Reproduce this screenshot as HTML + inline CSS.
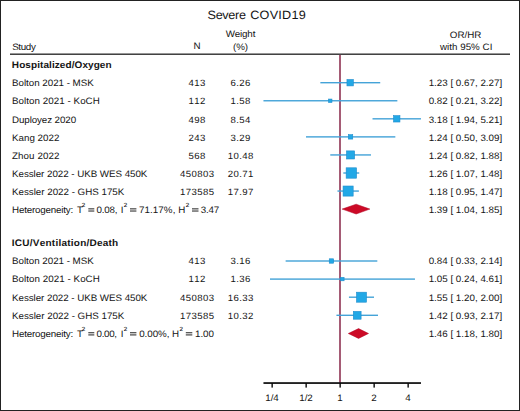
<!DOCTYPE html><html><head><meta charset="utf-8"><style>html,body{margin:0;padding:0;background:#fff}svg{display:block}text{font-family:"Liberation Sans",sans-serif;fill:#141414;text-rendering:geometricPrecision;font-kerning:none}</style></head><body>
<svg width="520" height="411" viewBox="0 0 520 411">
<rect x="0" y="0" width="520" height="411" fill="#fff"/>
<rect x="0.5" y="0.5" width="519" height="410" fill="none" stroke="#222" stroke-width="1"/>
<g transform="translate(207.53,19.3) scale(1,0.95)"><text x="0" y="0" font-size="12.65" textLength="38.44" lengthAdjust="spacing" >Severe</text></g>
<g transform="translate(250.16,19.3) scale(1,0.95)"><text x="0" y="0" font-size="12.65" textLength="55.64" lengthAdjust="spacing" >COVID19</text></g>
<g transform="translate(12.15,49.6) scale(1,0.95)"><text x="0" y="0" font-size="9.8" textLength="23.66" lengthAdjust="spacing" >Study</text></g>
<g transform="translate(197,49.4) scale(1,0.95)"><text x="0" y="0" font-size="9.8" text-anchor="middle">N</text></g>
<g transform="translate(225.76,37.3) scale(1,0.95)"><text x="0" y="0" font-size="9.8" textLength="29.61" lengthAdjust="spacing" >Weight</text></g>
<g transform="translate(240.5,49.6) scale(1,0.95)"><text x="0" y="0" font-size="9.8" text-anchor="middle">(%)</text></g>
<g transform="translate(449.84,37.8) scale(1,0.95)"><text x="0" y="0" font-size="9.8" textLength="31.62" lengthAdjust="spacing" >OR/HR</text></g>
<g transform="translate(440.01,49.6) scale(1,0.95)"><text x="0" y="0" font-size="9.8" textLength="52.39" lengthAdjust="spacing" >with 95% CI</text></g>
<rect x="10" y="53.5" width="500" height="1.4" fill="#2e2e2e"/>
<rect x="339.1" y="54.9" width="1.8" height="328" fill="#9c4a66"/>
<g transform="translate(11.83,68.3) scale(1,0.95)"><text x="0" y="0" font-size="10" font-weight="bold" textLength="99.79" lengthAdjust="spacing" >Hospitalized/Oxygen</text></g>
<g transform="translate(12.00,86.4) scale(1,0.95)"><text x="0" y="0" font-size="9.8" textLength="81.81" lengthAdjust="spacing" >Bolton 2021 - MSK</text></g>
<g transform="translate(197.2,86.4) scale(1,0.95)"><text x="0" y="0" font-size="9.6" letter-spacing="0.4" text-anchor="middle">413</text></g>
<g transform="translate(240.7,86.4) scale(1,0.95)"><text x="0" y="0" font-size="9.6" letter-spacing="0.4" text-anchor="middle">6.26</text></g>
<g transform="translate(465.4,86.4) scale(1,0.95)"><text x="0" y="0" font-size="9.8" text-anchor="middle">1.23 [ 0.67, 2.27]</text></g>
<rect x="320.36" y="82.00" width="59.86" height="1.4" fill="#44a3d8"/>
<rect x="346.95" y="79.50" width="6.40" height="6.40" fill="#22a8e6" stroke="#1f8ccc" stroke-width="0.6"/>
<g transform="translate(12.00,104.46) scale(1,0.95)"><text x="0" y="0" font-size="9.8" textLength="87.80" lengthAdjust="spacing" >Bolton 2021 - KoCH</text></g>
<g transform="translate(197.2,104.46) scale(1,0.95)"><text x="0" y="0" font-size="9.6" letter-spacing="0.4" text-anchor="middle">112</text></g>
<g transform="translate(240.7,104.46) scale(1,0.95)"><text x="0" y="0" font-size="9.6" letter-spacing="0.4" text-anchor="middle">1.58</text></g>
<g transform="translate(465.4,104.46) scale(1,0.95)"><text x="0" y="0" font-size="9.8" text-anchor="middle">0.82 [ 0.21, 3.22]</text></g>
<rect x="263.45" y="100.06" width="133.91" height="1.4" fill="#44a3d8"/>
<rect x="328.57" y="99.06" width="3.40" height="3.40" fill="#22a8e6" stroke="#1f8ccc" stroke-width="0.6"/>
<g transform="translate(12.00,122.52) scale(1,0.95)"><text x="0" y="0" font-size="9.8" textLength="64.08" lengthAdjust="spacing" >Duployez 2020</text></g>
<g transform="translate(197.2,122.52) scale(1,0.95)"><text x="0" y="0" font-size="9.6" letter-spacing="0.4" text-anchor="middle">498</text></g>
<g transform="translate(240.7,122.52) scale(1,0.95)"><text x="0" y="0" font-size="9.6" letter-spacing="0.4" text-anchor="middle">8.54</text></g>
<g transform="translate(465.4,122.52) scale(1,0.95)"><text x="0" y="0" font-size="9.8" text-anchor="middle">3.18 [ 1.94, 5.21]</text></g>
<rect x="372.51" y="118.12" width="48.46" height="1.4" fill="#44a3d8"/>
<rect x="393.55" y="115.62" width="6.40" height="6.40" fill="#22a8e6" stroke="#1f8ccc" stroke-width="0.6"/>
<g transform="translate(12.00,140.58) scale(1,0.95)"><text x="0" y="0" font-size="9.8" textLength="47.39" lengthAdjust="spacing" >Kang 2022</text></g>
<g transform="translate(197.2,140.58) scale(1,0.95)"><text x="0" y="0" font-size="9.6" letter-spacing="0.4" text-anchor="middle">243</text></g>
<g transform="translate(240.7,140.58) scale(1,0.95)"><text x="0" y="0" font-size="9.6" letter-spacing="0.4" text-anchor="middle">3.29</text></g>
<g transform="translate(465.4,140.58) scale(1,0.95)"><text x="0" y="0" font-size="9.8" text-anchor="middle">1.24 [ 0.50, 3.09]</text></g>
<rect x="306.00" y="136.18" width="89.34" height="1.4" fill="#44a3d8"/>
<rect x="348.35" y="134.68" width="4.40" height="4.40" fill="#22a8e6" stroke="#1f8ccc" stroke-width="0.6"/>
<g transform="translate(12.00,158.64) scale(1,0.95)"><text x="0" y="0" font-size="9.8" textLength="47.39" lengthAdjust="spacing" >Zhou 2022</text></g>
<g transform="translate(197.2,158.64) scale(1,0.95)"><text x="0" y="0" font-size="9.6" letter-spacing="0.4" text-anchor="middle">568</text></g>
<g transform="translate(240.7,158.64) scale(1,0.95)"><text x="0" y="0" font-size="9.6" letter-spacing="0.4" text-anchor="middle">10.48</text></g>
<g transform="translate(465.4,158.64) scale(1,0.95)"><text x="0" y="0" font-size="9.8" text-anchor="middle">1.24 [ 0.82, 1.88]</text></g>
<rect x="330.27" y="154.24" width="40.70" height="1.4" fill="#44a3d8"/>
<rect x="346.50" y="150.89" width="8.10" height="8.10" fill="#22a8e6" stroke="#1f8ccc" stroke-width="0.6"/>
<g transform="translate(12.00,176.7) scale(1,0.95)"><text x="0" y="0" font-size="9.8" textLength="135.41" lengthAdjust="spacing" >Kessler 2022 - UKB WES 450K</text></g>
<g transform="translate(197.2,176.7) scale(1,0.95)"><text x="0" y="0" font-size="9.6" letter-spacing="0.4" text-anchor="middle">450803</text></g>
<g transform="translate(240.7,176.7) scale(1,0.95)"><text x="0" y="0" font-size="9.6" letter-spacing="0.4" text-anchor="middle">20.71</text></g>
<g transform="translate(465.4,176.7) scale(1,0.95)"><text x="0" y="0" font-size="9.8" text-anchor="middle">1.26 [ 1.07, 1.48]</text></g>
<rect x="343.32" y="172.30" width="15.91" height="1.4" fill="#44a3d8"/>
<rect x="346.14" y="167.80" width="10.40" height="10.40" fill="#22a8e6" stroke="#1f8ccc" stroke-width="0.6"/>
<g transform="translate(12.00,194.76) scale(1,0.95)"><text x="0" y="0" font-size="9.8" textLength="112.31" lengthAdjust="spacing" >Kessler 2022 - GHS 175K</text></g>
<g transform="translate(197.2,194.76) scale(1,0.95)"><text x="0" y="0" font-size="9.6" letter-spacing="0.4" text-anchor="middle">173585</text></g>
<g transform="translate(240.7,194.76) scale(1,0.95)"><text x="0" y="0" font-size="9.6" letter-spacing="0.4" text-anchor="middle">17.97</text></g>
<g transform="translate(465.4,194.76) scale(1,0.95)"><text x="0" y="0" font-size="9.8" text-anchor="middle">1.18 [ 0.95, 1.47]</text></g>
<rect x="337.48" y="190.36" width="21.41" height="1.4" fill="#44a3d8"/>
<rect x="343.07" y="186.01" width="10.10" height="10.10" fill="#22a8e6" stroke="#1f8ccc" stroke-width="0.6"/>
<g transform="translate(12.00,212.8) scale(1,0.95)"><text x="0" y="0" font-size="9.8" textLength="61.19" lengthAdjust="spacing" >Heterogeneity:</text></g>
<g transform="translate(76.88,212.8) scale(1,0.95)"><text x="0" y="0" font-size="9.8" textLength="5.99" lengthAdjust="spacing" >T</text></g>
<g transform="translate(81.79,206.90) scale(1,0.95)"><text x="0" y="0" font-size="6.2" stroke="#141414" stroke-width="0.12">2</text></g>
<rect x="88.3" y="208.40" width="6.00" height="0.95" fill="#141414"/>
<rect x="88.3" y="210.55" width="6.00" height="0.95" fill="#141414"/>
<g transform="translate(96.62,212.8) scale(1,0.95)"><text x="0" y="0" font-size="9.8" textLength="20.76" lengthAdjust="spacing" >0.08,</text></g>
<g transform="translate(120.70,212.8) scale(1,0.95)"><text x="0" y="0" font-size="9.8">I</text></g>
<g transform="translate(123.69,206.90) scale(1,0.95)"><text x="0" y="0" font-size="6.2" stroke="#141414" stroke-width="0.12">2</text></g>
<rect x="130.0" y="208.40" width="6.40" height="0.95" fill="#141414"/>
<rect x="130.0" y="210.55" width="6.40" height="0.95" fill="#141414"/>
<g transform="translate(139.10,212.8) scale(1,0.95)"><text x="0" y="0" font-size="9.8" textLength="36.28" lengthAdjust="spacing" >71.17%,</text></g>
<g transform="translate(178.20,212.8) scale(1,0.95)"><text x="0" y="0" font-size="9.8">H</text></g>
<g transform="translate(185.69,206.90) scale(1,0.95)"><text x="0" y="0" font-size="6.2" stroke="#141414" stroke-width="0.12">2</text></g>
<rect x="192.0" y="208.40" width="6.50" height="0.95" fill="#141414"/>
<rect x="192.0" y="210.55" width="6.50" height="0.95" fill="#141414"/>
<g transform="translate(200.63,212.8) scale(1,0.95)"><text x="0" y="0" font-size="9.8" textLength="18.67" lengthAdjust="spacing" >3.47</text></g>
<g transform="translate(465.4,212.8) scale(1,0.95)"><text x="0" y="0" font-size="9.8" text-anchor="middle">1.39 [ 1.04, 1.85]</text></g>
<polygon points="342.12,209.10 356.15,204.20 369.88,209.10 356.15,214.00" fill="#cc0a26" stroke="#b00020" stroke-width="0.5"/>
<g transform="translate(11.83,246.2) scale(1,0.95)"><text x="0" y="0" font-size="10" font-weight="bold" textLength="106.39" lengthAdjust="spacing" >ICU/Ventilation/Death</text></g>
<g transform="translate(12.00,264.3) scale(1,0.95)"><text x="0" y="0" font-size="9.8" textLength="81.81" lengthAdjust="spacing" >Bolton 2021 - MSK</text></g>
<g transform="translate(197.2,264.3) scale(1,0.95)"><text x="0" y="0" font-size="9.6" letter-spacing="0.4" text-anchor="middle">413</text></g>
<g transform="translate(240.7,264.3) scale(1,0.95)"><text x="0" y="0" font-size="9.6" letter-spacing="0.4" text-anchor="middle">3.16</text></g>
<g transform="translate(465.4,264.3) scale(1,0.95)"><text x="0" y="0" font-size="9.8" text-anchor="middle">0.84 [ 0.33, 2.14]</text></g>
<rect x="285.62" y="260.30" width="91.70" height="1.4" fill="#44a3d8"/>
<rect x="329.25" y="258.80" width="4.40" height="4.40" fill="#22a8e6" stroke="#1f8ccc" stroke-width="0.6"/>
<g transform="translate(12.00,282.4) scale(1,0.95)"><text x="0" y="0" font-size="9.8" textLength="87.80" lengthAdjust="spacing" >Bolton 2021 - KoCH</text></g>
<g transform="translate(197.2,282.4) scale(1,0.95)"><text x="0" y="0" font-size="9.6" letter-spacing="0.4" text-anchor="middle">112</text></g>
<g transform="translate(240.7,282.4) scale(1,0.95)"><text x="0" y="0" font-size="9.6" letter-spacing="0.4" text-anchor="middle">1.36</text></g>
<g transform="translate(465.4,282.4) scale(1,0.95)"><text x="0" y="0" font-size="9.8" text-anchor="middle">1.05 [ 0.24, 4.61]</text></g>
<rect x="270.00" y="278.40" width="144.96" height="1.4" fill="#44a3d8"/>
<rect x="340.69" y="277.40" width="3.40" height="3.40" fill="#22a8e6" stroke="#1f8ccc" stroke-width="0.6"/>
<g transform="translate(12.00,300.5) scale(1,0.95)"><text x="0" y="0" font-size="9.8" textLength="135.41" lengthAdjust="spacing" >Kessler 2022 - UKB WES 450K</text></g>
<g transform="translate(197.2,300.5) scale(1,0.95)"><text x="0" y="0" font-size="9.6" letter-spacing="0.4" text-anchor="middle">450803</text></g>
<g transform="translate(240.7,300.5) scale(1,0.95)"><text x="0" y="0" font-size="9.6" letter-spacing="0.4" text-anchor="middle">16.33</text></g>
<g transform="translate(465.4,300.5) scale(1,0.95)"><text x="0" y="0" font-size="9.8" text-anchor="middle">1.55 [ 1.20, 2.00]</text></g>
<rect x="348.94" y="296.50" width="25.06" height="1.4" fill="#44a3d8"/>
<rect x="356.50" y="292.20" width="10.00" height="10.00" fill="#22a8e6" stroke="#1f8ccc" stroke-width="0.6"/>
<g transform="translate(12.00,318.6) scale(1,0.95)"><text x="0" y="0" font-size="9.8" textLength="112.31" lengthAdjust="spacing" >Kessler 2022 - GHS 175K</text></g>
<g transform="translate(197.2,318.6) scale(1,0.95)"><text x="0" y="0" font-size="9.6" letter-spacing="0.4" text-anchor="middle">173585</text></g>
<g transform="translate(240.7,318.6) scale(1,0.95)"><text x="0" y="0" font-size="9.6" letter-spacing="0.4" text-anchor="middle">10.32</text></g>
<g transform="translate(465.4,318.6) scale(1,0.95)"><text x="0" y="0" font-size="9.8" text-anchor="middle">1.42 [ 0.93, 2.17]</text></g>
<rect x="336.44" y="314.60" width="41.56" height="1.4" fill="#44a3d8"/>
<rect x="353.30" y="311.40" width="7.80" height="7.80" fill="#22a8e6" stroke="#1f8ccc" stroke-width="0.6"/>
<g transform="translate(12.00,336.7) scale(1,0.95)"><text x="0" y="0" font-size="9.8" textLength="61.19" lengthAdjust="spacing" >Heterogeneity:</text></g>
<g transform="translate(76.88,336.7) scale(1,0.95)"><text x="0" y="0" font-size="9.8" textLength="5.99" lengthAdjust="spacing" >T</text></g>
<g transform="translate(81.79,330.80) scale(1,0.95)"><text x="0" y="0" font-size="6.2" stroke="#141414" stroke-width="0.12">2</text></g>
<rect x="88.3" y="332.30" width="6.00" height="0.95" fill="#141414"/>
<rect x="88.3" y="334.45" width="6.00" height="0.95" fill="#141414"/>
<g transform="translate(96.62,336.7) scale(1,0.95)"><text x="0" y="0" font-size="9.8" textLength="20.46" lengthAdjust="spacing" >0.00,</text></g>
<g transform="translate(120.70,336.7) scale(1,0.95)"><text x="0" y="0" font-size="9.8">I</text></g>
<g transform="translate(123.69,330.80) scale(1,0.95)"><text x="0" y="0" font-size="6.2" stroke="#141414" stroke-width="0.12">2</text></g>
<rect x="130.0" y="332.30" width="6.40" height="0.95" fill="#141414"/>
<rect x="130.0" y="334.45" width="6.40" height="0.95" fill="#141414"/>
<g transform="translate(139.22,336.7) scale(1,0.95)"><text x="0" y="0" font-size="9.8" textLength="30.26" lengthAdjust="spacing" >0.00%,</text></g>
<g transform="translate(172.10,336.7) scale(1,0.95)"><text x="0" y="0" font-size="9.8">H</text></g>
<g transform="translate(179.49,330.80) scale(1,0.95)"><text x="0" y="0" font-size="6.2" stroke="#141414" stroke-width="0.12">2</text></g>
<rect x="185.8" y="332.30" width="6.50" height="0.95" fill="#141414"/>
<rect x="185.8" y="334.45" width="6.50" height="0.95" fill="#141414"/>
<g transform="translate(195.05,336.7) scale(1,0.95)"><text x="0" y="0" font-size="9.8" textLength="18.83" lengthAdjust="spacing" >1.00</text></g>
<g transform="translate(465.4,336.7) scale(1,0.95)"><text x="0" y="0" font-size="9.8" text-anchor="middle">1.46 [ 1.18, 1.80]</text></g>
<polygon points="348.32,333.50 358.56,328.60 368.53,333.50 358.56,338.40" fill="#cc0a26" stroke="#b00020" stroke-width="0.5"/>
<rect x="263.45" y="382.2" width="157.52" height="1.7" fill="#0a0a0a"/>
<rect x="271.45" y="383" width="1.4" height="4.6" fill="#0a0a0a"/>
<g transform="translate(272.00,400.6) scale(1,0.95)"><text x="0" y="0" font-size="9.8" text-anchor="middle">1/4</text></g>
<rect x="305.45" y="383" width="1.4" height="4.6" fill="#0a0a0a"/>
<g transform="translate(306.00,400.6) scale(1,0.95)"><text x="0" y="0" font-size="9.8" text-anchor="middle">1/2</text></g>
<rect x="339.45" y="383" width="1.4" height="4.6" fill="#0a0a0a"/>
<g transform="translate(340.00,400.6) scale(1,0.95)"><text x="0" y="0" font-size="9.8" text-anchor="middle">1</text></g>
<rect x="373.45" y="383" width="1.4" height="4.6" fill="#0a0a0a"/>
<g transform="translate(374.00,400.6) scale(1,0.95)"><text x="0" y="0" font-size="9.8" text-anchor="middle">2</text></g>
<rect x="407.45" y="383" width="1.4" height="4.6" fill="#0a0a0a"/>
<g transform="translate(408.00,400.6) scale(1,0.95)"><text x="0" y="0" font-size="9.8" text-anchor="middle">4</text></g>
</svg></body></html>
